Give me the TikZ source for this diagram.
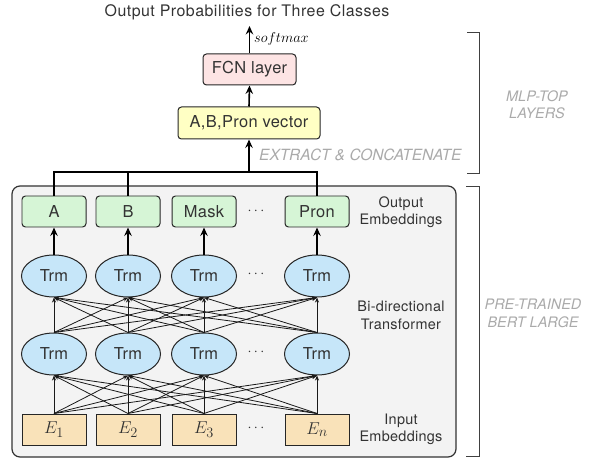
\documentclass[tikz,border=0pt]{standalone}
\usepackage{fontspec}
\setmainfont{TeX Gyre Heros}
\usetikzlibrary{arrows.meta,shapes.geometric}

\definecolor{outgreen}{HTML}{D6F5D6}
\definecolor{trmblue}{HTML}{C6E6F9}
\definecolor{embedtan}{HTML}{F9E2B9}
\definecolor{fcnpink}{HTML}{FDE4E4}
\definecolor{vecyellow}{HTML}{FFFFC4}
\definecolor{panelgray}{HTML}{F3F3F3}
\definecolor{txtdark}{HTML}{333333}
\definecolor{notegray}{HTML}{AAAAAA}

\tikzset{
  boxtext/.style={text=txtdark, font=\fontsize{16.5}{19}\selectfont\addfontfeature{LetterSpace=2}},
  blockbase/.style={boxtext, draw=black!85, line width=1pt, inner sep=0pt,
    minimum width=64bp, minimum height=31bp},
  outbox/.style={blockbase, rounded corners=3.5bp, fill=outgreen},
  embbox/.style={blockbase, fill=embedtan, font=\fontsize{19}{22}\selectfont},
  trmnode/.style={blockbase, ellipse, fill=trmblue, minimum width=65bp, minimum height=42bp},
  sidelabel/.style={text=txtdark, font=\fontsize{14.5}{17.5}\selectfont\addfontfeature{LetterSpace=2},
    align=center},
  notelabel/.style={text=notegray, font=\fontsize{14.5}{17.5}\selectfont\itshape, align=center},
  dotslabel/.style={text=txtdark, font=\fontsize{14}{16}\selectfont},
  bigarrow/.style={line width=1.6bp, -{Stealth[length=8.5bp,width=7.5bp,inset=3bp]}},
  thinarrow/.style={line width=0.8bp, black!90, -{Stealth[length=5bp,width=4bp,inset=1.5bp]}},
  busline/.style={line width=1.6bp},
  bracket/.style={line width=1bp, black!75},
}

\begin{document}
\begin{tikzpicture}[x=1bp, y=-1bp]
  \useasboundingbox (0,0) rectangle (597,461);

  % BERT panel
  \draw[fill=panelgray, draw=black!80, line width=1.2bp, rounded corners=8bp]
    (12,186) rectangle (456,457);

  % columns
  \foreach \n/\x/\lab in {1/54/A, 2/128/B, 3/204/Mask, 4/317/Pron} {
    \node[outbox] (o\n) at (\x,211.5) {\lab};
    \node[trmnode] (u\n) at (\x,276) {Trm};
    \node[trmnode] (l\n) at (\x,354) {Trm};
  }
  \node[embbox] (e1) at (54,429.5) {$E_1$};
  \node[embbox] (e2) at (128,429.5) {$E_2$};
  \node[embbox] (e3) at (204,429.5) {$E_3$};
  \node[embbox] (e4) at (317,429.5) {$E_n$};

  % ellipsis in each row
  \node[dotslabel] (d1) at (256,211) {$\cdots$};
  \node[dotslabel] (d2) at (256,274) {$\cdots$};
  \node[dotslabel] (d3) at (256,352) {$\cdots$};
  \node[dotslabel] (d4) at (256,428) {$\cdots$};

  % fully connected layers
  \foreach \i in {1,...,4} {
    \foreach \j in {1,...,4} {
      \draw[thinarrow] (e\i.north) -- (l\j.south);
      \draw[thinarrow] (l\i.north) -- (u\j.south);
    }
    \draw[bigarrow] (u\i.north) -- (o\i.south);
  }

  % row labels
  \node[sidelabel] (lo) at (401,212) {Output\\Embeddings};
  \node[sidelabel] (lt) at (401,315.5) {Bi-directional\\Transformer};
  \node[sidelabel] (li) at (401,429.5) {Input\\Embeddings};

  % top layers
  \node[blockbase, rounded corners=3.5bp, fill=vecyellow, minimum width=142bp, minimum height=32bp]
    (vec) at (249,123) {A,B,Pron vector};
  \node[blockbase, rounded corners=3.5bp, fill=fcnpink, minimum width=93bp]
    (fcn) at (249.5,69.5) {FCN layer};
  \node[text=txtdark, font=\fontsize{16}{19}\selectfont\addfontfeature{LetterSpace=3}]
    (title) at (247,12) {Output Probabilities for Three Classes};

  % extraction bus
  \coordinate (busA) at (o1.north |- 0,172);
  \coordinate (busP) at (o4.north |- 0,172);
  \coordinate (busB) at (o2.north |- 0,172);
  \coordinate (busC) at (vec.south |- 0,172);
  \draw[busline] (o1.north) -- (busA) -- (busP) -- (o4.north);
  \draw[busline] (o2.north) -- (busB);
  \draw[bigarrow] (busC) -- (vec.south);
  \draw[bigarrow] (vec.north) -- (fcn.south);
  \coordinate (probs) at (fcn.north |- 0,26);
  \draw[bigarrow] (fcn.north) -- (probs);
  \node[anchor=west, inner sep=0pt, font=\fontsize{14}{16}\selectfont] (sm) at (254,39) {$softmax$};

  \node[notelabel, anchor=west, inner sep=0pt, font=\fontsize{15.5}{18}\selectfont\itshape]
    (ext) at (259,155) {EXTRACT \& CONCATENATE};

  % brackets
  \coordinate (m1) at (467,33);
  \coordinate (m2) at (479,33);
  \coordinate (m3) at (479,174);
  \coordinate (m4) at (467,174);
  \draw[bracket] (m1) -- (m2) -- (m3) -- (m4);
  \node[notelabel] (mlp) at (537,104.5) {MLP-TOP\\LAYERS};

  \coordinate (p1) at (466,187);
  \coordinate (p2) at (479,187);
  \coordinate (p3) at (479,456);
  \coordinate (p4) at (466,456);
  \draw[bracket] (p1) -- (p2) -- (p3) -- (p4);
  \node[notelabel] (bert) at (533,313.5) {PRE-TRAINED\\BERT LARGE};
\end{tikzpicture}
\end{document}
